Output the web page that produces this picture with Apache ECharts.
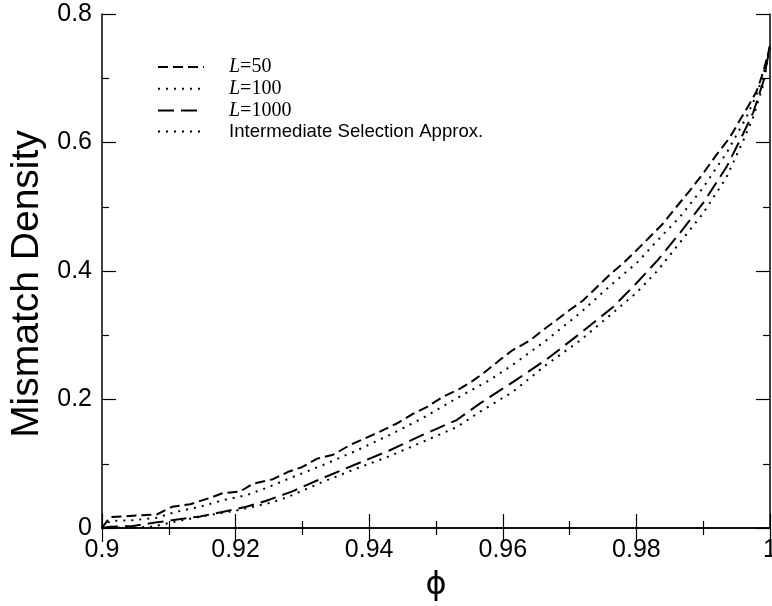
<!DOCTYPE html>
<html>
<head>
<meta charset="utf-8">
<script src="https://cdn.jsdelivr.net/npm/echarts@6/dist/echarts.min.js"></script>
<style>html,body{margin:0;padding:0;background:#fff}#c{width:772px;height:606px}</style>
</head>
<body>
<div id="c"></div>
<script>
// x tick labels / y tick labels
var xTicks = [0.9, 0.92, 0.94, 0.96, 0.98, 1];
var yTicks = [0, 0.2, 0.4, 0.6, 0.8];
var seriesNames = ['L=50', 'L=100', 'L=1000', 'Intermediate Selection Approx.'];

// [phi, mismatch density]
var l50 = [[0.9,0],[0.9012,0.017],[0.9046,0.019],[0.9082,0.021],[0.9105,0.033],[0.9132,0.037],[0.9162,0.047],[0.918,0.054],[0.9207,0.057],[0.9226,0.069],[0.9256,0.076],[0.928,0.088],[0.930,0.095],[0.9322,0.108],[0.9346,0.114],[0.9371,0.129],[0.9397,0.141],[0.9416,0.15],[0.9442,0.163],[0.9466,0.178],[0.9486,0.188],[0.951,0.204],[0.9536,0.217],[0.9555,0.229],[0.9576,0.245],[0.9596,0.262],[0.9615,0.277],[0.9641,0.292],[0.966,0.308],[0.9681,0.324],[0.9701,0.34],[0.972,0.354],[0.9741,0.375],[0.976,0.394],[0.978,0.412],[0.9798,0.43],[0.982,0.453],[0.984,0.474],[0.986,0.5],[0.988,0.525],[0.99,0.552],[0.992,0.581],[0.994,0.608],[0.9955,0.635],[0.997,0.661],[0.998,0.68],[0.999,0.71],[1.0,0.75]];
var l100 = [[0.9,0],[0.9012,0.011],[0.9046,0.012],[0.9082,0.016],[0.911,0.025],[0.9147,0.033],[0.918,0.043],[0.9216,0.051],[0.9245,0.062],[0.928,0.077],[0.9331,0.098],[0.9382,0.121],[0.9431,0.145],[0.948,0.171],[0.9531,0.202],[0.958,0.23],[0.9615,0.254],[0.9665,0.292],[0.9716,0.335],[0.9765,0.381],[0.98,0.412],[0.9832,0.448],[0.9865,0.484],[0.99,0.53],[0.9935,0.584],[0.9965,0.64],[0.998,0.675],[0.999,0.705],[1.0,0.75]];
var l1000 = [[0.9,0],[0.9012,0.002],[0.9046,0.003],[0.9077,0.008],[0.911,0.013],[0.9147,0.018],[0.918,0.025],[0.9216,0.033],[0.9245,0.042],[0.9285,0.057],[0.9331,0.078],[0.9382,0.1],[0.9431,0.121],[0.948,0.145],[0.9531,0.168],[0.9566,0.194],[0.9615,0.227],[0.9665,0.262],[0.9716,0.303],[0.9765,0.344],[0.98,0.381],[0.9832,0.417],[0.9865,0.459],[0.99,0.506],[0.9935,0.562],[0.996,0.614],[0.9975,0.647],[0.999,0.695],[1.0,0.75]];
var approx = [[0.9,0],[0.9045,0.0005],[0.9075,0.002],[0.9105,0.009],[0.9155,0.019],[0.9205,0.028],[0.9255,0.04],[0.928,0.049],[0.9331,0.072],[0.9382,0.093],[0.9431,0.112],[0.948,0.134],[0.9531,0.157],[0.9566,0.181],[0.9615,0.212],[0.9665,0.254],[0.9716,0.292],[0.9765,0.335],[0.98,0.366],[0.9832,0.401],[0.9865,0.444],[0.99,0.49],[0.9935,0.546],[0.996,0.603],[0.9975,0.64],[0.999,0.69],[1.0,0.75]];

var chart = echarts.init(document.getElementById('c'), null, {renderer: 'canvas'});
var sans = 'Liberation Sans, Arial, Helvetica, sans-serif';
var serif = 'Liberation Serif, Times New Roman, serif';
function axisCommon(showLabel) {
  return {
    axisLine: {show: true, lineStyle: {color: '#000', width: 1.5}},
    axisTick: {show: true, inside: true, length: 14, lineStyle: {color: '#000', width: 1.2}},
    minorTick: {show: true, splitNumber: 2, length: 7, lineStyle: {color: '#000', width: 1.2}},
    splitLine: {show: false},
    minorSplitLine: {show: false},
    axisLabel: {show: showLabel, color: '#000', fontSize: 25, fontFamily: sans}
  };
}
var xMain = Object.assign(axisCommon(true), {
  type: 'value', min: xTicks[0], max: xTicks[xTicks.length - 1], interval: 0.02,
  name: '\u03D5', nameLocation: 'middle', nameGap: 42,
  nameTextStyle: {color: '#000', fontSize: 32, fontFamily: 'DejaVu Sans, sans-serif'}
});
xMain.axisLabel.margin = 10;
xMain.axisLabel.formatter = function (v) { return String(+v.toFixed(2)); };
var xTop = Object.assign(axisCommon(false), {
  type: 'value', position: 'top', min: xTicks[0], max: xTicks[xTicks.length - 1], interval: 0.02
});
var yMain = Object.assign(axisCommon(true), {
  type: 'value', min: yTicks[0], max: yTicks[yTicks.length - 1], interval: 0.2,
  name: 'Mismatch Density', nameLocation: 'middle', nameGap: 53,
  nameTextStyle: {color: '#000', fontSize: 39, fontFamily: sans, padding: [0, 26, 0, 0]}
});
yMain.axisLabel.margin = 10;
yMain.axisLabel.formatter = function (v) { return String(+v.toFixed(1)); };
var yRight = Object.assign(axisCommon(false), {
  type: 'value', position: 'right', min: yTicks[0], max: yTicks[yTicks.length - 1], interval: 0.2
});

function mk(name, data, dash) {
  return {
    name: name, type: 'line', data: data, showSymbol: false, symbol: 'none',
    lineStyle: {color: '#000', width: 2, type: dash},
    itemStyle: {color: '#000'},
    animation: false, silent: true, clip: true
  };
}

chart.setOption({
  backgroundColor: '#fff',
  animation: false,
  grid: {left: 102, right: 2, top: 14, bottom: 78, containLabel: false, outerBoundsMode: 'none'},
  legend: {
    orient: 'vertical', left: 157, top: 57, padding: 0,
    itemWidth: 46, itemHeight: 14, itemGap: 1.7,
    itemStyle: {opacity: 0},
    data: seriesNames,
    textStyle: {
      color: '#000', padding: [0, 0, 0, 20], lineHeight: 19,
      rich: {
        i: {fontFamily: serif, fontStyle: 'italic', fontSize: 20, color: '#000', lineHeight: 19},
        s: {fontFamily: serif, fontSize: 20, color: '#000', lineHeight: 19},
        a: {fontFamily: sans, fontSize: 18.6, color: '#000', lineHeight: 19}
      }
    },
    formatter: function (name) {
      if (name.indexOf('L=') === 0) return '{i|L}{s|' + name.slice(1) + '}';
      return '{a|' + name + '}';
    }
  },
  xAxis: [xMain, xTop],
  yAxis: [yMain, yRight],
  series: [
    mk(seriesNames[0], l50, [10, 5]),
    mk(seriesNames[1], l100, [2, 6]),
    mk(seriesNames[2], l1000, [16, 7]),
    mk(seriesNames[3], approx, [2, 6])
  ]
});
</script>
</body>
</html>
